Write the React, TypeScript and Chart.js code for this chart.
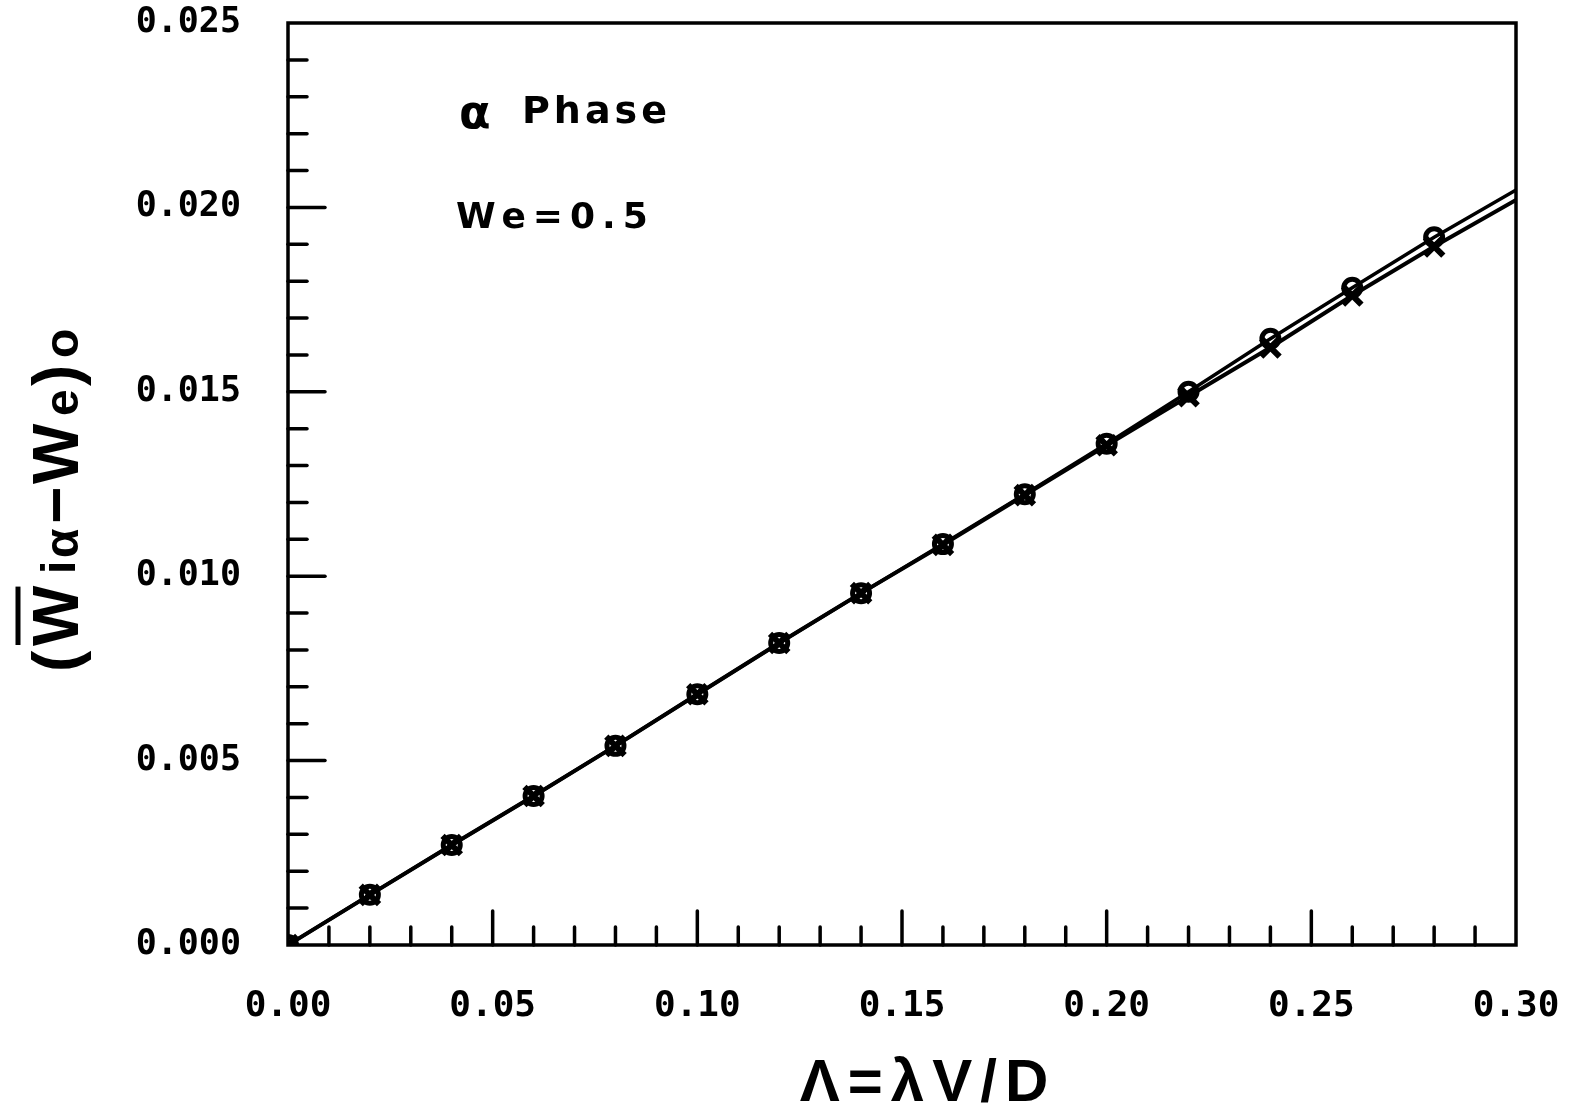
import React, { useEffect, useRef } from "react";
import { Chart, registerables } from "chart.js";

Chart.register(...registerables);

// Λ = λV/D values
const lambdaValues = [0, 0.02, 0.04, 0.06, 0.08, 0.1, 0.12, 0.14, 0.16, 0.18, 0.2, 0.22, 0.24, 0.26, 0.28, 0.3];
// series drawn with open circles
const circleSeries = [0, 0.00136, 0.00271, 0.00404, 0.0054, 0.0068, 0.00819, 0.00954, 0.01087, 0.01222, 0.01359, 0.015, 0.01644, 0.01782, 0.01919, 0.02047];
// series drawn with crosses
const crossSeries = [0, 0.00136, 0.00271, 0.00404, 0.0054, 0.0068, 0.00819, 0.00954, 0.01085, 0.0122, 0.01355, 0.01488, 0.0162, 0.01761, 0.01894, 0.0202];
// whether a marker is drawn at each abscissa (the last one is the line end only)
const markerShown = [true, true, true, true, true, true, true, true, true, true, true, true, true, true, true, false];

const xMajorStep = 0.05;
const xMinorStep = 0.01;
const yMajorStep = 0.005;
const yMinorStep = 0.001;
const xMax = 0.3;
const yMax = 0.025;

const annotationAlpha = "α";
const annotationPhase = "Phase";
const annotationWe = "We=0.5";
const xTitle = "Λ=λV/D";
// y title glyphs: text, offset along the text direction, small?
const yTitleParts: [string, number, boolean][] = [
  ["(", 0, false],
  ["W", 26, false],
  ["i", 98, true],
  ["α", 114, true],
  ["−", 148, false],
  ["W", 188, false],
  ["e", 256, true],
  [")", 286, false],
  ["o", 314, true],
];

const decorPlugin = {
  id: "decor",
  afterDraw(chart: any) {
    const ctx: CanvasRenderingContext2D = chart.ctx;
    const { left, right, top, bottom } = chart.chartArea;
    const xs = chart.scales.x;
    const ys = chart.scales.y;
    ctx.save();
    ctx.strokeStyle = "#000";
    ctx.fillStyle = "#000";
    ctx.lineCap = "round";
    // frame
    ctx.lineWidth = 3.5;
    ctx.strokeRect(left, top, right - left, bottom - top);
    // y ticks (inward from left axis)
    const nY = Math.round(yMax / yMinorStep);
    for (let i = 1; i < nY; i++) {
      const py = ys.getPixelForValue(i * yMinorStep);
      const major = i % Math.round(yMajorStep / yMinorStep) === 0;
      ctx.lineWidth = 3.5;
      ctx.beginPath();
      ctx.moveTo(left, py);
      ctx.lineTo(left + (major ? 37 : 19), py);
      ctx.stroke();
    }
    // x ticks (inward from bottom axis)
    const nX = Math.round(xMax / xMinorStep);
    for (let i = 1; i < nX; i++) {
      const px = xs.getPixelForValue(i * xMinorStep);
      const major = i % Math.round(xMajorStep / xMinorStep) === 0;
      ctx.lineWidth = 3.5;
      ctx.beginPath();
      ctx.moveTo(px, bottom);
      ctx.lineTo(px, bottom - (major ? 34 : 18));
      ctx.stroke();
    }
    // annotations
    ctx.textBaseline = "alphabetic";
    ctx.textAlign = "left";
    (ctx as any).letterSpacing = "0px";
    ctx.font = "bold 46px 'DejaVu Sans'";
    ctx.fillText(annotationAlpha, 459, 128);
    (ctx as any).letterSpacing = "4px";
    ctx.font = "bold 38px 'DejaVu Sans'";
    ctx.fillText(annotationPhase, 522, 123);
    (ctx as any).letterSpacing = "7px";
    ctx.font = "bold 36px 'DejaVu Sans'";
    ctx.fillText(annotationWe, 456, 228);
    // x title
    (ctx as any).letterSpacing = "8px";
    ctx.font = "bold 60px 'Liberation Sans'";
    ctx.textAlign = "left";
    const xtw = ctx.measureText(xTitle).width;
    ctx.fillText(xTitle, 928 - xtw / 2, 1101);
    // y title, rotated
    (ctx as any).letterSpacing = "0px";
    ctx.translate(78, 672);
    ctx.rotate(-Math.PI / 2);
    for (const [t, off, small] of yTitleParts) {
      ctx.font = small ? "bold 48px 'Liberation Sans'" : "bold 64px 'Liberation Sans'";
      ctx.fillText(t, off, t === "i" ? -3 : 0);
    }
    // bar over the first W
    ctx.font = "bold 64px 'Liberation Sans'";
    const ww = ctx.measureText("W").width;
    ctx.lineWidth = 5;
    ctx.lineCap = "butt";
    ctx.beginPath();
    ctx.moveTo(yTitleParts[1][1] + 1, -60);
    ctx.lineTo(yTitleParts[1][1] + ww - 1, -60);
    ctx.stroke();
    ctx.restore();
  },
};

export default function App() {
  const ref = useRef<HTMLCanvasElement | null>(null);
  useEffect(() => {
    if (!ref.current) return;
    const circlePts = lambdaValues.map((x, i) => ({ x, y: circleSeries[i] }));
    const crossPts = lambdaValues.map((x, i) => ({ x, y: crossSeries[i] }));
    const chart = new Chart(ref.current, {
      type: "line",
      data: {
        datasets: [
          {
            label: "circles",
            data: circlePts,
            borderColor: "#000",
            borderWidth: 3.5,
            pointStyle: "circle",
            pointRadius: markerShown.map((s) => (s ? 8.5 : 0)),
            pointBorderWidth: 5,
            pointBackgroundColor: "rgba(0,0,0,0)",
            pointBorderColor: "#000",
            tension: 0,
            fill: false,
          },
          {
            label: "crosses",
            data: crossPts,
            borderColor: "#000",
            borderWidth: 4,
            pointStyle: "crossRot",
            pointRadius: markerShown.map((s) => (s ? 13 : 0)),
            pointBorderWidth: 6,
            pointBorderColor: "#000",
            tension: 0,
            fill: false,
          },
        ],
      },
      options: {
        responsive: false,
        animation: false,
        layout: { padding: { left: 0, top: 23, right: 56, bottom: 0 } },
        plugins: { legend: { display: false }, tooltip: { enabled: false } },
        scales: {
          x: {
            type: "linear",
            min: 0,
            max: xMax,
            grid: { display: false, drawTicks: false },
            border: { display: false },
            afterFit: (s: any) => {
              s.height = 167;
              s.paddingLeft = 0;
              s.paddingRight = 0;
              s.paddingTop = 0;
              s.paddingBottom = 0;
            },
            ticks: {
              stepSize: xMajorStep,
              autoSkip: false,
              maxRotation: 0,
              padding: 40,
              color: "#000",
              font: { family: "'DejaVu Sans Mono'", size: 36, weight: "bold" },
              callback: (v: any) => Number(v).toFixed(2),
            },
          },
          y: {
            type: "linear",
            min: 0,
            max: yMax,
            grid: { display: false, drawTicks: false },
            border: { display: false },
            afterFit: (s: any) => {
              s.width = 288;
              s.paddingLeft = 0;
              s.paddingRight = 0;
              s.paddingTop = 0;
              s.paddingBottom = 0;
            },
            ticks: {
              stepSize: yMajorStep,
              autoSkip: false,
              padding: 47,
              color: "#000",
              font: { family: "'DejaVu Sans Mono'", size: 35, weight: "bold" },
              callback: (v: any) => Number(v).toFixed(3),
            },
          },
        },
      },
      plugins: [decorPlugin],
    });
    return () => chart.destroy();
  }, []);
  return (
    <div style={{ position: "absolute", left: 0, top: 0, width: 1572, height: 1112, background: "#fff" }}>
      <canvas ref={ref} width={1572} height={1112} style={{ display: "block" }} />
    </div>
  );
}
